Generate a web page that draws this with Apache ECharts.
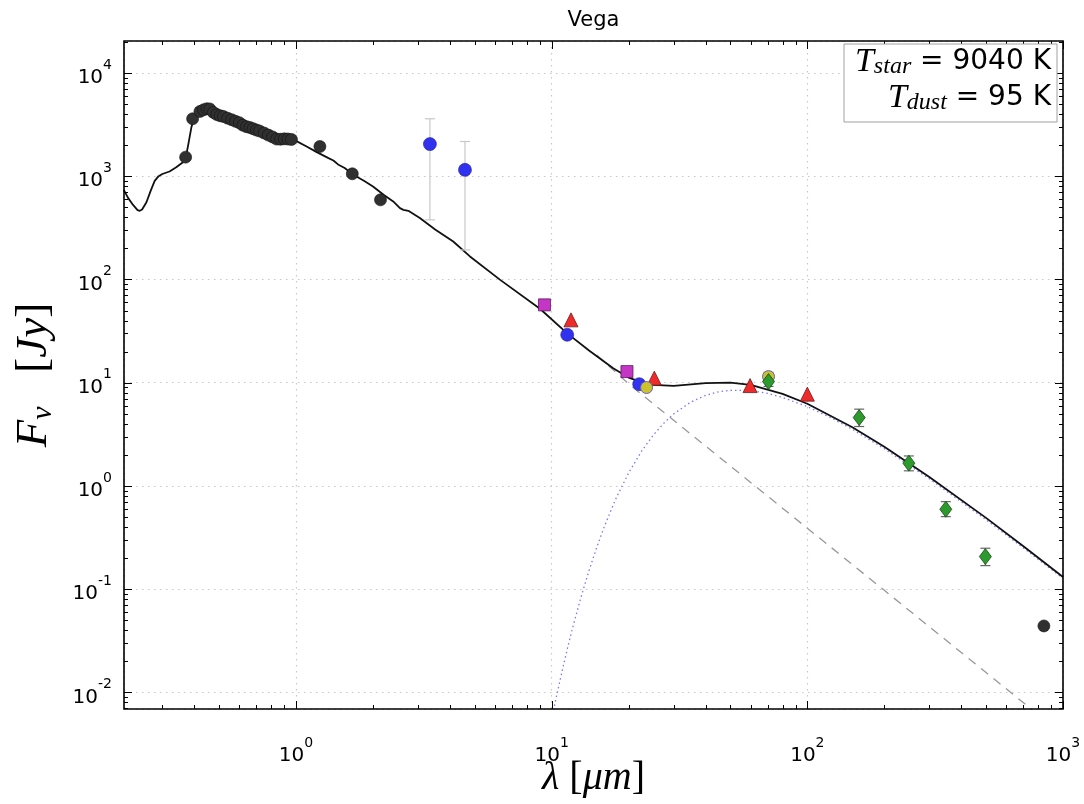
<!DOCTYPE html>
<html><head><meta charset="utf-8">
<script src="https://cdn.jsdelivr.net/npm/echarts@6/dist/echarts.min.js"></script>
<style>html,body{margin:0;padding:0;background:#fff}#c{width:1084px;height:804px}</style>
</head><body><div id="c"></div><script>
// ---------------- data ----------------
const X_MIN = 0.2124, X_MAX = 1000, Y_MIN = 0.0069, Y_MAX = 20400;

// total model (star + dust), solid black
const modelLam  = [0.212,0.22,0.23,0.24,0.245,0.25,0.26,0.27,0.28,0.29,0.30,0.32,0.34,0.36,0.37,0.38,0.39,0.40,0.42,0.44,0.46,0.48,0.50,0.55,0.60,0.65,0.70,0.80,0.90,1.00,1.10,1.20,1.34,1.40,1.46,1.55,1.675,1.85,2.0,2.2,2.4,2.55,2.63,2.75,3.05,3.5,4.12,4.79,6.29,9.0,11.5,14,17.4,20,22,25,30,40,50,60,80,100,150,200,300,500,700,1000];
const modelFlux = [738,620,530,470,462,475,560,720,900,1000,1050,1110,1220,1360,1480,2100,3000,3700,4200,4450,4450,4100,3900,3580,3300,2980,2800,2430,2300,2200,1940,1720,1497,1420,1300,1200,1032,900,795,660,569,490,472,462,393,305,233,167,99,52,30,20.5,13.8,11.2,10.3,9.5,9.3,9.9,10.0,9.5,7.8,6.25,3.70,2.39,1.22,0.49,0.26,0.131];

// stellar photosphere, dashed gray
const starLam  = [15,20,30,50,100,200,500,1000];
const starFlux = [18.5,9.73,4.32,1.556,0.389,0.0973,0.01556,0.00389];

// dust blackbody (95 K), dotted blue
const dustLam  = [10,10.5,11,11.5,12,13,14,15,16,17.5,18,20,22.5,25,27.5,30,35,40,45,50,60,70,80,100,125,150,200,300,500,700,1000];
const dustFlux = [0.0055,0.00977,0.0163,0.0261,0.0398,0.0824,0.1516,0.253,0.393,0.676,0.79,1.336,2.18,3.117,4.07,4.975,6.49,7.53,8.16,8.44,8.38,7.87,7.19,5.86,4.51,3.53,2.29,1.172,0.47,0.251,0.127];

// photometry
const blackLam  = [0.370,0.394,0.421,0.435,0.448,0.46,0.475,0.49,0.505,0.52,0.54,0.56,0.58,0.60,0.62,0.64,0.66,0.68,0.70,0.72,0.75,0.78,0.81,0.84,0.87,0.90,0.93,0.96,1.24,1.66,2.14,842];
const blackFlux = [1530,3600,4240,4400,4500,4480,4150,3950,3850,3790,3650,3530,3400,3300,3120,3020,2960,2880,2800,2740,2620,2500,2400,2290,2280,2300,2290,2270,1940,1055,590,0.044];

const blueLam  = [3.34,4.58,11.5,22.0];
const blueFlux = [2047,1153,29.1,9.67];
const blueErrLo = [378,193,null,null];
const blueErrHi = [3600,2168,null,null];

const magentaLam  = [9.37,19.7];
const magentaFlux = [56.7,12.8];

const redLam  = [11.9,25.2,59.7,100];
const redFlux = [40.6,11.06,9.37,7.74];

const yellowLam  = [23.5,70.5];
const yellowFlux = [8.97,11.45];
const yellowErrLo = [null,10.3];
const yellowErrHi = [null,12.6];

const greenLam  = [70.5,159.5,249.5,348,497];
const greenFlux = [10.25,4.59,1.66,0.594,0.2066];
const greenErrLo = [9.2,3.76,1.40,0.504,0.169];
const greenErrHi = [11.3,5.54,1.95,0.704,0.249];

// axis ticks
const xMajor = [1,10,100,1000];
const xMinor = [0.3,0.4,0.5,0.6,0.7,0.8,0.9,2,3,4,5,6,7,8,9,20,30,40,50,60,70,80,90,200,300,400,500,600,700,800,900];
const yMajor = [0.01,0.1,1,10,100,1000,10000];
const yMinor = [0.007,0.008,0.009,0.02,0.03,0.04,0.05,0.06,0.07,0.08,0.09,0.2,0.3,0.4,0.5,0.6,0.7,0.8,0.9,2,3,4,5,6,7,8,9,20,30,40,50,60,70,80,90,200,300,400,500,600,700,800,900,2000,3000,4000,5000,6000,7000,8000,9000,20000];

const titleText = 'Vega';
const tStar = '9040', tDust = '95';

// ---------------- helpers ----------------
const zip = (a, b) => a.map((v, i) => [v, b[i]]);
const errData = (lam, lo, hi) => lam.map((v, i) => [v, lo[i], hi[i]]).filter(d => d[1] != null);

function errSeries(data, color, cap) {
  return {
    type: 'custom', silent: true, z: 3,
    encode: { x: 0, y: [1, 2] },
    data: data,
    renderItem(params, api) {
      const x = api.value(0);
      const p1 = api.coord([x, api.value(1)]);
      const p2 = api.coord([x, api.value(2)]);
      const st = { stroke: color, lineWidth: 1.2 };
      return { type: 'group', children: [
        { type: 'line', shape: { x1: p1[0], y1: p1[1], x2: p2[0], y2: p2[1] }, style: st },
        { type: 'line', shape: { x1: p1[0] - cap, y1: p1[1], x2: p1[0] + cap, y2: p1[1] }, style: st },
        { type: 'line', shape: { x1: p2[0] - cap, y1: p2[1], x2: p2[0] + cap, y2: p2[1] }, style: st }
      ]};
    }
  };
}

function tickSeries(vals, axis, len) {
  return {
    type: 'custom', silent: true, clip: false, z: 10,
    encode: { x: 0, y: 1 },
    data: vals.map(v => axis === 'x' ? [v, 1] : [1, v]),
    renderItem(params, api) {
      const cs = params.coordSys;
      const p = api.coord([api.value(0), api.value(1)]);
      const st = { stroke: '#000', lineWidth: 1 };
      if (axis === 'x') {
        const x = Math.round(p[0]) + 0.5;
        return { type: 'group', children: [
          { type: 'line', shape: { x1: x, y1: cs.y + cs.height, x2: x, y2: cs.y + cs.height - len }, style: st },
          { type: 'line', shape: { x1: x, y1: cs.y, x2: x, y2: cs.y + len }, style: st }
        ]};
      } else {
        const y = Math.round(p[1]) + 0.5;
        return { type: 'group', children: [
          { type: 'line', shape: { x1: cs.x, y1: y, x2: cs.x + len, y2: y }, style: st },
          { type: 'line', shape: { x1: cs.x + cs.width, y1: y, x2: cs.x + cs.width - len, y2: y }, style: st }
        ]};
      }
    }
  };
}

// frame drawn over the split lines, sized from the grid's own coordinate system
function frameSeries() {
  return {
    type: 'custom', silent: true, clip: false, z: 11,
    encode: { x: 0, y: 1 },
    data: [[1, 1]],
    renderItem(params) {
      const cs = params.coordSys;
      return { type: 'rect', shape: { x: cs.x, y: cs.y, width: cs.width, height: cs.height },
               style: { fill: 'none', stroke: '#000', lineWidth: 1.6 } };
    }
  };
}

function powLabel(v) {
  const e = Math.log10(v), r = Math.round(e);
  if (Math.abs(e - r) > 1e-6) return '';
  return '{b|10}{s|' + r + '}';
}
const labelRich = {
  b: { fontFamily: 'DejaVu Sans', fontSize: 20, color: '#000', lineHeight: 30, verticalAlign: 'bottom' },
  s: { fontFamily: 'DejaVu Sans', fontSize: 14, color: '#000', lineHeight: 14, verticalAlign: 'top' }
};
const SERIF = 'Liberation Serif';
const legendRich = {
  t: { fontFamily: SERIF, fontStyle: 'italic', fontSize: 34, lineHeight: 34, verticalAlign: 'middle', fill: '#000' },
  u: { fontFamily: SERIF, fontStyle: 'italic', fontSize: 24, lineHeight: 18, verticalAlign: 'bottom', fill: '#000' },
  n: { fontFamily: 'DejaVu Sans', fontSize: 28, lineHeight: 34, verticalAlign: 'middle', fill: '#000' }
};
const xNameRich = {
  i: { fontFamily: SERIF, fontStyle: 'italic', fontSize: 40, fill: '#000' },
  r: { fontFamily: SERIF, fontSize: 40, fill: '#000' }
};

const chart = echarts.init(document.getElementById('c'), null, { renderer: 'canvas' });
chart.setOption({
  animation: false,
  backgroundColor: '#fff',
  grid: { left: 124, right: 21, top: 41, bottom: 95, show: false, containLabel: false, outerBoundsMode: 'none' },
  xAxis: {
    type: 'log', logBase: 10, min: X_MIN, max: X_MAX,
    axisLine: { show: false }, axisTick: { show: false },
    splitLine: { show: true, lineStyle: { color: '#c8c8c8', width: 1.2, type: [1.5, 4.5] } },
    axisLabel: { formatter: powLabel, rich: labelRich, margin: 27, showMinLabel: true, showMaxLabel: true }
  },
  yAxis: {
    type: 'log', logBase: 10, min: Y_MIN, max: Y_MAX,
    axisLine: { show: false }, axisTick: { show: false },
    splitLine: { show: true, lineStyle: { color: '#c8c8c8', width: 1.2, type: [1.5, 4.5] } },
    axisLabel: { formatter: powLabel, rich: labelRich, margin: 12 },
    name: '{i|F}{s|ν}{r|   [}{i|Jy}{r|]}', nameLocation: 'middle', nameGap: 66, nameRotate: 90,
    nameTextStyle: { rich: {
      i: { fontFamily: SERIF, fontStyle: 'italic', fontSize: 45, color: '#000', lineHeight: 48, verticalAlign: 'middle' },
      s: { fontFamily: SERIF, fontStyle: 'italic', fontSize: 30, color: '#000', lineHeight: 24, verticalAlign: 'bottom' },
      r: { fontFamily: SERIF, fontSize: 45, color: '#000', lineHeight: 48, verticalAlign: 'middle' } } }
  },
  graphic: [
    { type: 'text', x: 593.5, y: 21, style: { text: titleText, font: '21px "DejaVu Sans"', fill: '#000', align: 'center', verticalAlign: 'middle' } },
    { type: 'text', x: 593.5, y: 778, style: { text: '{i|λ}{r| [}{i|μm}{r|]}', align: 'center', verticalAlign: 'middle', rich: xNameRich } },
    { type: 'rect', shape: { x: 844, y: 44, width: 213, height: 78 }, style: { fill: '#fff', stroke: '#a0a0a0', lineWidth: 1 }, z: 20 },
    { type: 'text', x: 1051, y: 62, z: 21, style: { text: '{t|T}{u|star}{n| = ' + tStar + ' K}', align: 'right', verticalAlign: 'middle', rich: legendRich } },
    { type: 'text', x: 1051, y: 98, z: 21, style: { text: '{t|T}{u|dust}{n| = ' + tDust + ' K}', align: 'right', verticalAlign: 'middle', rich: legendRich } }
  ],
  series: [
    { type: 'line', data: zip(dustLam, dustFlux), showSymbol: false, clip: true, z: 1,
      lineStyle: { color: '#7777ff', width: 1.3, type: [1.5, 3] } },
    { type: 'line', data: zip(starLam, starFlux), showSymbol: false, clip: true, z: 1,
      lineStyle: { color: '#999', width: 1.3, type: [9, 7] } },
    { type: 'line', data: zip(modelLam, modelFlux), showSymbol: false, clip: true, z: 2,
      lineStyle: { color: '#111', width: 1.8 } },
    errSeries(errData(blueLam, blueErrLo, blueErrHi), '#c8c8c8', 5),
    errSeries(errData(yellowLam, yellowErrLo, yellowErrHi), '#888', 5),
    errSeries(errData(greenLam, greenErrLo, greenErrHi), '#666', 5),
    { type: 'scatter', data: zip(blackLam, blackFlux), symbol: 'circle', symbolSize: 12, z: 4,
      itemStyle: { color: '#303030', borderColor: '#111', borderWidth: 0.6, opacity: 1 } },
    { type: 'scatter', data: zip(blueLam, blueFlux), symbol: 'circle', symbolSize: 13, z: 4,
      itemStyle: { color: '#3131f0', borderColor: '#22228a', borderWidth: 0.6, opacity: 1 } },
    { type: 'scatter', data: zip(magentaLam, magentaFlux), symbol: 'rect', symbolSize: 12, z: 4,
      itemStyle: { color: '#c636c6', borderColor: '#5a1a5a', borderWidth: 0.8, opacity: 1 } },
    { type: 'scatter', data: zip(redLam, redFlux), symbol: 'triangle', symbolSize: 14, z: 4,
      itemStyle: { color: '#ee2a2a', borderColor: '#6a1a1a', borderWidth: 0.8, opacity: 1 } },
    { type: 'scatter', data: zip(yellowLam, yellowFlux), symbol: 'circle', symbolSize: 12, z: 4,
      itemStyle: { color: '#cbc22c', borderColor: '#6060c8', borderWidth: 1, opacity: 1 } },
    { type: 'scatter', data: zip(greenLam, greenFlux), symbol: 'diamond', symbolSize: [12, 16], z: 5,
      itemStyle: { color: '#2c9a2c', borderColor: '#1a4a1a', borderWidth: 0.8, opacity: 1 } },
    frameSeries(),
    tickSeries(xMajor, 'x', 8),
    tickSeries(xMinor, 'x', 4),
    tickSeries(yMajor, 'y', 8),
    tickSeries(yMinor, 'y', 4)
  ]
});
</script></body></html>
